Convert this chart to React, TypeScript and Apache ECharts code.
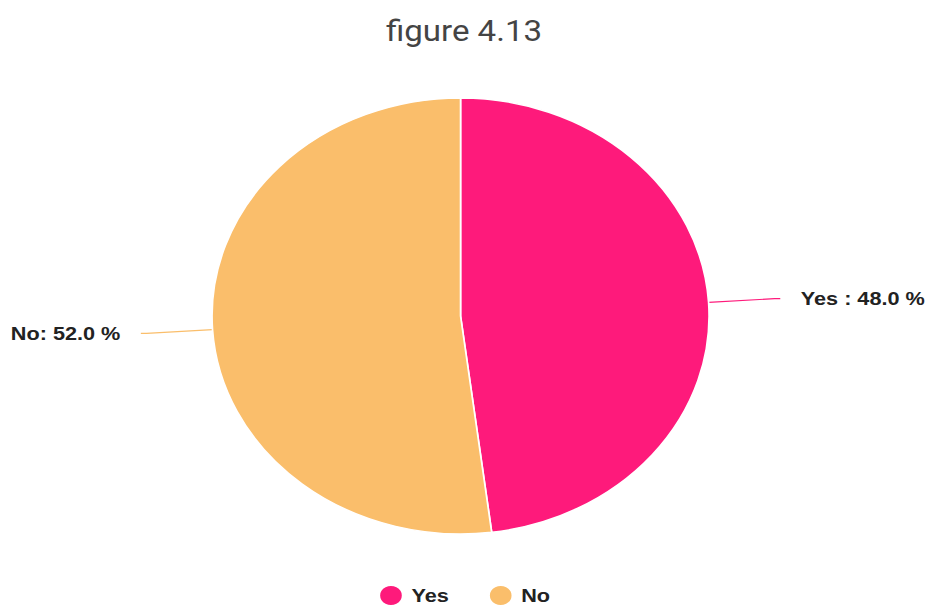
import React, { useEffect, useRef } from "react";
import * as echarts from "echarts";

const categories = ["Yes", "No"];
const values = [48.0, 52.0];
const labelTexts = ["Yes : 48.0 %", "No: 52.0 %"];
const colors = ["#FE1A7B", "#FABE6B"];
const titleText = "figure 4.13";

const STRETCH = 1.14;
const W = 928;
const H = 608;

export default function App() {
  const ref = useRef<HTMLDivElement>(null);
  useEffect(() => {
    if (!ref.current) return;
    const chart = echarts.init(ref.current, undefined, { renderer: "svg" });
    chart.setOption({
      animation: false,
      backgroundColor: "#ffffff",
      title: {
        text: titleText,
        left: "center",
        top: 12,
        textStyle: {
          fontFamily: "Roboto",
          fontWeight: "normal",
          fontSize: 29,
          color: "#444444",
        },
      },
      legend: {
        data: categories,
        bottom: -4,
        left: "center",
        icon: "circle",
        itemWidth: 26,
        itemHeight: 21,
        itemGap: 34,
        textStyle: {
          fontFamily: "Liberation Sans",
          fontWeight: "bold",
          fontSize: 19,
          color: "#222222",
        },
      },
      series: [
        {
          type: "pie",
          center: [404, 316],
          radius: 218,
          startAngle: 90,
          clockwise: true,
          color: colors,
          itemStyle: { borderColor: "#ffffff", borderWidth: 1.5 },
          label: {
            show: true,
            position: "outside",
            formatter: (p: any) => labelTexts[p.dataIndex],
            fontFamily: "Liberation Sans",
            fontWeight: "bold",
            fontSize: 19,
            color: "#222222",
            distanceToLabelLine: 18,
            overflow: "none",
          },
          labelLine: {
            show: true,
            length: 58,
            length2: 5,
            smooth: false,
            lineStyle: { width: 1.2 },
          },
          emphasis: { disabled: true },
          data: categories.map((c, i) => ({ name: c, value: values[i] })),
        },
      ],
    });
    return () => chart.dispose();
  }, []);
  return (
    <div
      style={{
        position: "absolute",
        left: 0,
        top: 0,
        width: W,
        height: H,
        overflow: "hidden",
        background: "#ffffff",
      }}
    >
      <div
        ref={ref}
        style={{
          width: Math.round(W / STRETCH),
          height: H,
          transform: `scaleX(${STRETCH})`,
          transformOrigin: "0 0",
        }}
      />
    </div>
  );
}
